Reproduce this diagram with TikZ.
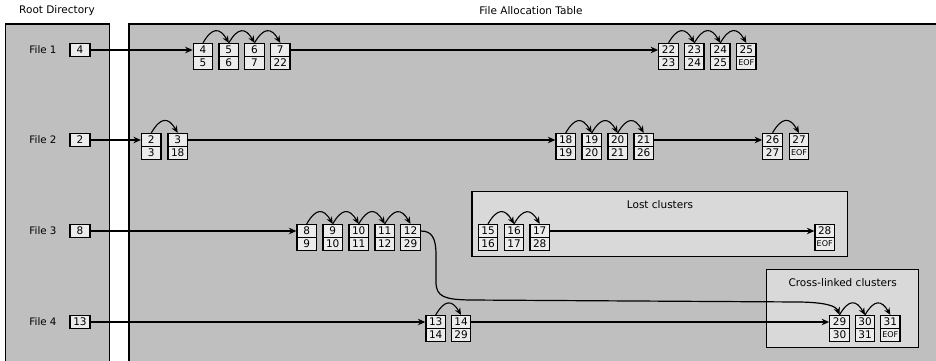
\documentclass[tikz,border=0pt]{standalone}
\usepackage{fontspec}
\setmainfont{DejaVu Sans}
\usetikzlibrary{arrows.meta}
\definecolor{panelgray}{HTML}{BFBFBF}
\definecolor{groupgray}{HTML}{D9D9D9}
\definecolor{cellgray}{HTML}{ECECEC}
\tikzset{
  panel/.style={draw=black, fill=panelgray, line width=1.3pt},
  group/.style={draw=black, fill=groupgray, line width=1.3pt},
  cell/.style={draw=black, fill=cellgray, line width=1.2pt, inner sep=0pt,
    minimum width=19.5pt, minimum height=13pt, font=\fontsize{10.5}{11}\selectfont},
  title/.style={font=\fontsize{10.5}{12}\selectfont, inner sep=0pt},
  flabel/.style={font=\fontsize{10.3}{12}\selectfont, inner sep=0pt},
  conn/.style={line width=1.2pt, -{Stealth[length=7.5pt,width=6.5pt]}},
  arc/.style={line width=1.1pt, -{Stealth[length=7pt,width=6pt]}, out=60, in=120, looseness=1.8},
}
\newcommand\clu[5]{%
  \node[cell] (c#1) at (#2,#3) {#4};
  \node[cell] (c#1b) at (#2,#3+13) {#5};}
\newcommand\eof{{\fontsize{8}{9}\selectfont EOF}}
\begin{document}
\begin{tikzpicture}[x=1pt,y=-1pt]
\useasboundingbox (0,0) rectangle (936,360);
\clip (0,0) rectangle (936,360);
% panels
\path[panel] (5.3,24) rectangle (109.3,375);
\path[panel] (129,24) rectangle (945,375);
\node[title] (troot) at (57,11) {Root Directory};
\node[title] (tfat) at (531,11) {File Allocation Table};
% groups
\path[group] (472,191.7) rectangle (847.7,256.7);
\node[title] (tlost) at (660,205) {Lost clusters};
\path[group] (766.7,269.3) rectangle (918.3,347.3);
\node[title] (tcross) at (842.7,283) {Cross-linked clusters};
% root entries
\node[flabel] (f1) at (43,50) {File 1};
\node[flabel] (f2) at (43,140) {File 2};
\node[flabel] (f3) at (43,231) {File 3};
\node[flabel] (f4) at (43,322) {File 4};
\node[cell, minimum width=20pt] (r1) at (80,50) {4};
\node[cell, minimum width=20pt] (r2) at (80,140) {2};
\node[cell, minimum width=20pt] (r3) at (80,231) {8};
\node[cell, minimum width=20pt] (r4) at (80,322) {13};
% row 1
\clu{4}{203}{50}{4}{5}
\clu{5}{228.8}{50}{5}{6}
\clu{6}{254.5}{50}{6}{7}
\clu{7}{280.3}{50}{7}{22}
\clu{22}{668.5}{50}{22}{23}
\clu{23}{694.3}{50}{23}{24}
\clu{24}{720.3}{50}{24}{25}
\clu{25}{746.3}{50}{25}{\eof}
% row 2
\clu{2}{151.3}{140}{2}{3}
\clu{3}{177.7}{140}{3}{18}
\clu{18}{565.7}{140}{18}{19}
\clu{19}{591.7}{140}{19}{20}
\clu{20}{617.7}{140}{20}{21}
\clu{21}{643.7}{140}{21}{26}
\clu{26}{772.5}{140}{26}{27}
\clu{27}{799}{140}{27}{\eof}
% row 3
\clu{8}{306.7}{231}{8}{9}
\clu{9}{332.7}{231}{9}{10}
\clu{10}{358.7}{231}{10}{11}
\clu{11}{384.7}{231}{11}{12}
\clu{12}{410.5}{231}{12}{29}
% lost
\clu{15}{488}{231}{15}{16}
\clu{16}{514}{231}{16}{17}
\clu{17}{539.7}{231}{17}{28}
\clu{28}{824.7}{231}{28}{\eof}
% row 4
\clu{13}{435.7}{322}{13}{14}
\clu{14}{461}{322}{14}{29}
\clu{29}{839.5}{322}{29}{30}
\clu{30}{865}{322}{30}{31}
\clu{31}{890.3}{322}{31}{\eof}
% straight connectors
\draw[conn] (r1) -- (c4);
\draw[conn] (c7) -- (c22);
\draw[conn] (r2) -- (c2);
\draw[conn] (c3) -- (c18);
\draw[conn] (c21) -- (c26);
\draw[conn] (r3) -- (c8);
\draw[conn] (c17) -- (c28);
\draw[conn] (r4) -- (c13);
\draw[conn] (c14) -- (c29);
% cross-link curve
\draw[conn] (c12.east) .. controls (432,231) and (436,238) .. (436,255)
  -- (436,282) .. controls (436,297) and (445,299.5) .. (470,300)
  -- (800,302) .. controls (826,302.5) and (836,306) .. (c29.north);
% arcs
\foreach \a/\b in {4/5,5/6,6/7,22/23,23/24,24/25,2/3,18/19,19/20,20/21,26/27,
  8/9,9/10,10/11,11/12,15/16,16/17,13/14,29/30,30/31}
  \draw[arc] (c\a.north) to (c\b.north);
\end{tikzpicture}
\end{document}
